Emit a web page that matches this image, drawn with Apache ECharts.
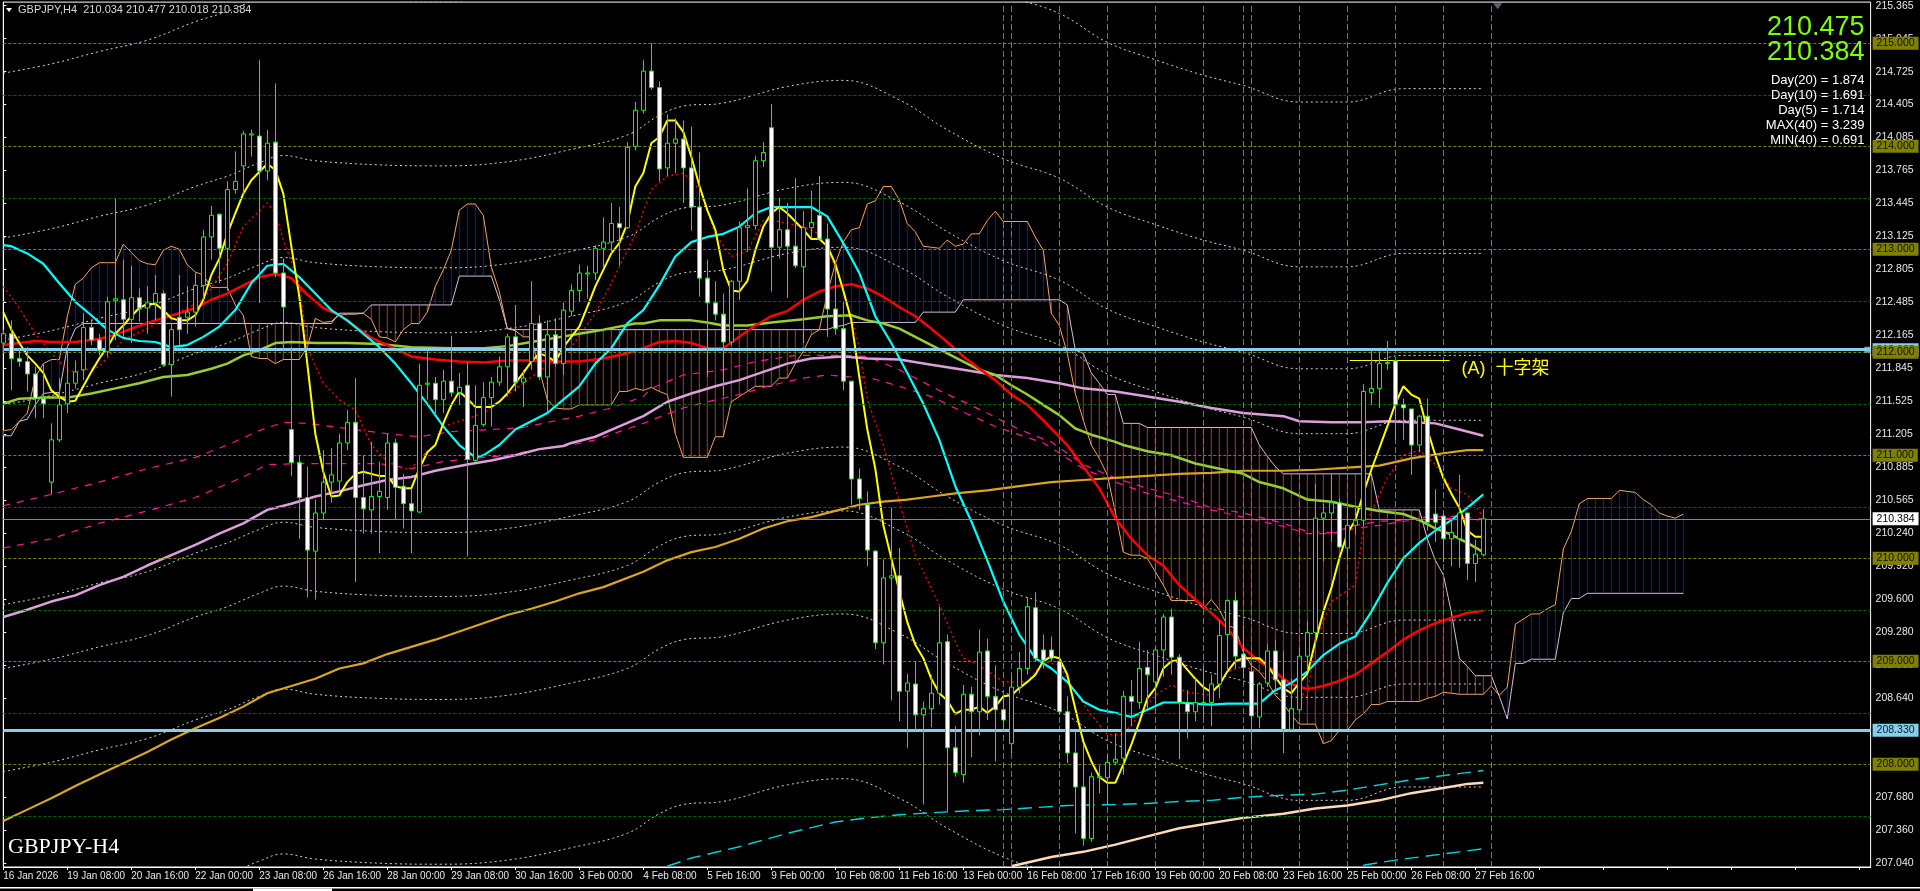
<!DOCTYPE html>
<html><head><meta charset="utf-8">
<style>html,body{margin:0;padding:0;background:#000;overflow:hidden}#c{width:1920px;height:891px}</style>
<script src="https://cdn.jsdelivr.net/npm/echarts@6/dist/echarts.min.js"></script>
</head><body><div id="c"></div>
<script>
const timeLabels=['16 Jan 2026','19 Jan 08:00','20 Jan 16:00','22 Jan 00:00','23 Jan 08:00','26 Jan 16:00','28 Jan 00:00','29 Jan 08:00','30 Jan 16:00','3 Feb 00:00','4 Feb 08:00','5 Feb 16:00','9 Feb 00:00','10 Feb 08:00','11 Feb 16:00','13 Feb 00:00','16 Feb 08:00','17 Feb 16:00','19 Feb 00:00','20 Feb 08:00','23 Feb 16:00','25 Feb 00:00','26 Feb 08:00','27 Feb 16:00'];
const priceTicks=[207.040,207.360,207.680,208.000,208.320,208.640,208.960,209.280,209.600,209.920,210.240,210.565,210.885,211.205,211.525,211.845,212.165,212.485,212.805,213.125,213.445,213.765,214.085,214.405,214.725,215.045,215.365];
const wholeLevels=[215,214,213,212,211,210,209,208];
const halfLevels=[214.5,213.5,212.5,211.5,210.5,209.5,208.5,207.5];
const dayBars=[125,126,132,138,144,150,155,156,162,168,174,180,186];
const opens=[212.09,212.18,211.94,211.91,211.79,211.55,210.74,211.15,211.50,211.70,
211.83,212.24,212.12,212.01,212.50,212.51,212.32,212.53,212.43,212.48,
212.57,211.88,212.34,212.34,212.39,212.65,213.12,213.34,213.01,213.58,
213.81,214.11,214.10,213.76,214.04,212.77,211.25,210.93,210.59,210.07,
210.44,210.74,210.75,211.12,211.32,210.59,210.47,210.60,210.59,211.12,
210.70,210.53,210.45,211.69,211.70,211.54,211.72,211.61,211.68,210.95,
211.30,211.56,211.71,211.86,212.15,211.71,211.91,212.28,211.76,212.17,
211.89,212.40,212.60,212.76,212.77,213.01,213.07,213.25,213.21,214.00,
214.35,214.73,214.57,213.79,214.03,214.07,213.79,213.41,212.72,212.48,
212.37,212.10,212.69,213.21,213.23,213.86,214.18,213.02,213.19,213.03,
212.83,213.21,213.33,213.10,212.42,212.23,211.72,210.77,210.52,210.07,
209.18,209.81,209.83,208.71,208.78,208.48,208.54,208.69,209.19,208.16,
207.90,208.68,208.51,209.10,208.66,208.53,208.20,208.75,208.93,209.52,
209.11,209.11,209.00,208.51,208.11,207.78,207.28,207.87,207.87,208.02,
208.06,208.66,208.60,208.94,208.80,209.11,209.43,209.04,208.60,208.51,
208.59,208.60,208.78,209.26,209.59,209.07,208.90,208.46,208.79,209.10,
208.82,208.34,208.53,209.05,209.28,210.39,210.44,210.54,210.10,210.32,
210.37,211.61,211.65,211.89,211.92,211.49,211.45,211.10,211.38,210.43,
210.41,210.19,210.19,210.44,209.95,210.034];
const highs=[212.22,212.31,212.03,212.05,211.86,211.89,211.31,211.75,212.04,211.92,
212.38,212.31,212.18,212.54,213.49,212.90,212.84,212.62,212.64,212.75,
212.60,212.28,212.75,212.64,212.77,213.19,213.42,213.35,213.66,213.95,
214.15,214.16,214.84,214.16,214.61,212.91,212.05,211.00,210.89,210.57,
211.05,211.07,211.21,211.44,211.75,211.00,211.13,210.94,211.21,211.16,
210.82,210.68,211.89,212.02,211.76,211.83,212.16,211.80,211.90,211.68,
211.71,211.76,211.96,212.18,212.46,211.83,212.69,212.36,212.31,212.33,
212.48,212.66,212.85,212.84,213.04,213.31,213.45,213.41,214.04,214.43,
214.84,215.00,214.63,214.31,214.27,214.25,214.19,213.94,212.90,212.69,
212.57,212.70,213.27,213.59,213.91,214.04,214.41,213.50,213.45,213.69,
213.37,213.57,213.71,213.25,212.88,212.49,211.72,210.87,210.65,210.08,
209.99,210.49,210.10,208.88,209.00,208.61,208.87,209.53,209.26,208.37,
208.77,208.75,209.31,209.22,208.96,208.66,208.87,209.09,209.62,209.67,
209.26,209.24,209.48,208.66,208.32,208.20,207.92,207.99,208.09,208.30,
208.71,208.82,209.19,209.11,209.14,209.46,209.51,209.07,208.72,208.83,
208.95,208.87,209.40,209.60,209.67,209.35,208.98,208.80,209.17,209.21,
209.10,208.83,209.13,209.39,210.72,210.53,210.82,210.58,210.49,210.49,
211.69,212.02,212.01,212.11,211.92,211.55,211.45,211.39,211.55,210.67,
210.44,210.36,210.81,210.44,210.18,210.477];
const lows=[211.99,211.63,211.86,211.62,211.36,211.36,210.62,211.13,211.41,211.65,
211.73,212.07,211.97,211.96,212.12,212.15,212.09,212.30,212.18,212.31,
211.86,211.57,212.07,212.18,212.25,212.51,212.90,212.67,212.60,213.54,
213.53,213.90,212.48,213.67,212.73,212.02,210.80,210.19,209.62,209.60,
210.37,210.54,210.66,211.05,209.77,210.24,210.24,210.05,210.47,210.38,
210.29,210.05,210.44,211.54,211.41,211.41,211.57,211.49,210.02,210.94,
211.28,211.28,211.67,211.57,211.62,211.47,211.83,211.73,211.41,211.86,
211.78,212.35,212.49,212.52,212.70,212.83,212.96,212.84,213.20,213.96,
214.32,214.55,213.66,213.71,213.74,213.45,213.18,212.54,211.76,212.31,
211.58,212.07,212.51,212.98,213.19,213.80,212.59,212.91,212.53,212.82,
212.09,213.11,213.10,212.15,212.17,211.63,210.52,210.47,209.92,209.12,
208.97,208.62,208.42,208.16,208.33,207.61,208.36,208.58,207.54,207.88,
207.82,208.07,208.28,208.43,208.03,208.32,208.11,208.69,208.87,209.00,
208.93,209.00,208.48,208.01,207.33,207.21,207.25,207.72,207.61,207.99,
207.90,208.37,208.54,208.54,208.58,208.85,208.87,208.05,208.25,208.42,
208.45,208.37,208.64,208.92,208.93,208.83,208.20,208.35,208.75,208.72,
208.11,208.33,208.51,208.90,209.16,209.97,210.16,210.10,210.00,210.23,
210.31,211.49,211.46,211.83,211.15,211.15,210.81,211.03,210.27,210.16,
209.96,209.92,209.91,209.79,209.77,210.018];
const closes=[212.18,211.94,211.91,211.79,211.55,211.50,211.15,211.49,211.70,211.81,
212.24,212.12,212.02,212.49,212.52,212.32,212.53,212.43,212.48,212.57,
211.88,212.22,212.22,212.39,212.65,213.12,213.33,213.01,213.58,213.66,
214.12,214.12,213.76,214.03,212.77,212.44,210.93,210.59,210.08,210.44,
210.74,210.81,211.12,211.32,210.59,210.48,210.60,210.65,211.12,210.69,
210.53,210.46,211.68,211.70,211.54,211.72,211.61,211.66,210.96,211.29,
211.56,211.71,211.86,212.15,211.71,211.75,212.28,211.76,212.17,211.89,
212.41,212.60,212.77,212.77,213.01,213.07,213.25,213.21,213.99,214.35,
214.73,214.57,213.78,214.03,214.07,213.79,213.41,212.72,212.48,212.37,
212.10,212.69,213.21,213.23,213.86,213.94,213.02,213.19,213.03,212.84,
213.21,213.26,213.10,212.42,212.23,211.72,210.77,210.58,210.08,209.18,
209.81,209.83,208.71,208.79,208.48,208.54,208.69,209.18,208.16,207.92,
208.68,208.51,209.09,208.66,208.53,208.43,208.75,208.93,209.53,209.03,
209.01,209.03,208.51,208.11,207.78,207.28,207.88,207.88,208.02,208.05,
208.66,208.61,208.93,208.87,209.11,209.43,209.04,208.60,208.51,208.60,
208.60,208.78,209.25,209.59,209.05,208.94,208.47,208.78,209.10,208.82,
208.34,208.54,209.05,209.28,210.39,210.44,210.54,210.11,210.32,210.37,
211.62,211.65,211.89,211.90,211.49,211.46,211.10,211.38,210.35,210.35,
210.19,210.25,210.44,209.95,210.04,210.384];
const yellowMA=[212.39,212.22,212.09,211.97,211.89,211.80,211.63,211.57,211.52,211.53,
211.67,211.81,211.94,212.05,212.18,212.26,212.35,212.43,212.47,212.47,
212.41,212.33,212.31,212.31,212.36,212.51,212.75,212.91,213.15,213.35,
213.54,213.67,213.75,213.83,213.77,213.54,213.03,212.54,211.89,211.21,
210.84,210.60,210.61,210.74,210.82,210.84,210.82,210.80,210.80,210.70,
210.68,210.68,210.87,211.03,211.10,211.31,211.49,211.62,211.55,211.47,
211.47,211.47,211.52,211.60,211.70,211.80,211.91,211.99,211.96,211.91,
212.05,212.15,212.25,212.44,212.64,212.80,212.96,213.06,213.25,213.61,
213.74,214.03,214.09,214.25,214.25,214.14,213.90,213.62,213.38,213.19,
212.80,212.60,212.59,212.69,212.99,213.22,213.35,213.41,213.35,213.27,
213.19,213.10,213.10,213.03,212.86,212.60,212.31,211.76,211.25,210.87,
210.32,210.00,209.68,209.38,209.16,209.03,208.83,208.69,208.62,208.49,
208.53,208.53,208.56,208.50,208.56,208.66,208.67,208.74,208.80,208.87,
209.00,209.05,209.03,208.87,208.54,208.22,208.03,207.88,207.82,207.82,
208.00,208.19,208.41,208.64,208.74,208.93,209.00,209.01,208.92,208.83,
208.75,208.70,208.77,208.90,209.00,209.03,209.03,209.03,208.96,208.85,
208.74,208.69,208.79,208.88,209.19,209.48,209.71,210.00,210.24,210.37,
210.63,210.86,211.07,211.28,211.50,211.67,211.59,211.55,211.25,211.00,
210.78,210.63,210.49,210.27,210.21,210.21];
const cyanBars=[0,1,3,5,7,9,11,13,15,17,19,21,23,25,27,29,31,33,35,37,39,41,43,45,47,49,51,53,55,57,58,59,60,61,62,64,66,68,70,72,74,76,78,80,82,84,86,88,90,92,94,96,98,101,103,105,107,109,111,113,115,117,119,121,123,125,127,129,131,133,135,137,139,141,143,145,147,149,151,153,155,157,159,161,163,165,167,169,171,173,175,177,179,181,183,185];
const cyanMA=[213.04,213.03,212.96,212.86,212.67,212.49,212.36,212.22,212.14,212.11,212.10,212.05,212.07,212.15,212.25,212.41,212.67,212.84,212.86,212.73,212.57,212.41,212.31,212.18,212.05,211.89,211.70,211.50,211.28,211.10,211.04,210.98,211.00,211.05,211.10,211.25,211.33,211.41,211.54,211.67,211.89,212.04,212.28,212.41,212.65,212.93,213.07,213.12,213.15,213.22,213.35,213.41,213.41,213.41,213.32,213.06,212.77,212.35,212.09,211.80,211.50,211.15,210.70,210.36,209.98,209.58,209.26,209.03,208.93,208.80,208.61,208.53,208.50,208.46,208.53,208.60,208.60,208.59,208.58,208.59,208.59,208.59,208.72,208.79,208.90,209.06,209.17,209.24,209.48,209.76,210.00,210.15,210.27,210.37,210.49,210.62];
const redBars=[0,2,4,6,9,12,14,16,19,22,24,26,28,30,32,34,36,38,40,42,44,46,48,51,54,57,60,63,66,69,72,75,78,80,82,84,86,88,90,92,94,96,98,100,102,104,106,108,110,112,114,116,118,120,122,124,126,128,130,132,133,135,137,139,141,143,145,147,149,151,153,155,157,159,160,161,163,165,167,169,171,173,175,177,179,181,183,185];
const redMA=[212.07,212.09,212.11,212.10,212.10,212.13,212.17,212.23,212.31,212.38,212.43,212.51,212.57,212.65,212.73,212.76,212.72,212.56,212.43,212.36,212.25,212.14,212.07,211.96,211.93,211.91,211.90,211.92,211.92,211.91,211.91,211.94,211.99,212.04,212.10,212.11,212.09,212.04,212.04,212.15,212.26,212.35,212.40,212.51,212.59,212.64,212.66,212.62,212.54,212.44,212.35,212.23,212.10,211.96,211.84,211.73,211.59,211.49,211.34,211.18,211.10,210.89,210.68,210.39,210.19,210.03,209.93,209.74,209.60,209.47,209.32,209.13,209.00,208.90,208.83,208.78,208.73,208.76,208.81,208.87,208.98,209.09,209.21,209.30,209.37,209.42,209.47,209.49];
const greenBars=[0,2,5,8,11,14,17,20,23,26,28,30,32,34,36,39,43,47,51,56,60,63,66,69,72,75,79,80,82,86,88,90,93,96,100,103,106,108,110,112,114,116,118,120,122,124,126,128,130,132,134,136,139,140,143,146,149,152,155,157,160,163,166,169,172,175,177,179,181,183,185];
const greenMA=[211.50,211.55,211.56,211.56,211.60,211.65,211.70,211.76,211.78,211.84,211.89,211.97,212.02,212.09,212.10,212.09,212.09,212.08,212.05,212.04,212.04,212.06,212.10,212.14,212.18,212.22,212.28,212.28,212.31,212.31,212.29,212.26,212.26,212.29,212.32,212.35,212.36,212.31,212.28,212.23,212.15,212.07,211.99,211.91,211.83,211.78,211.68,211.59,211.49,211.39,211.26,211.20,211.13,211.10,211.04,211.00,210.92,210.87,210.82,210.74,210.68,210.57,210.55,210.50,210.46,210.43,210.37,210.29,210.23,210.15,210.06];
const plumBars=[0,3,6,9,12,15,18,21,24,27,30,33,36,39,42,45,48,51,54,58,61,64,67,70,71,74,77,80,83,86,89,92,95,98,101,105,108,112,116,120,124,128,132,135,139,143,147,151,155,160,162,166,170,173,176,179,182,185];
const plumMA=[209.43,209.50,209.58,209.64,209.74,209.82,209.93,210.03,210.13,210.24,210.34,210.47,210.53,210.60,210.65,210.71,210.76,210.79,210.85,210.91,210.95,211.00,211.06,211.09,211.12,211.18,211.28,211.38,211.52,211.60,211.67,211.73,211.81,211.89,211.94,211.96,211.94,211.93,211.88,211.83,211.78,211.75,211.70,211.65,211.62,211.57,211.52,211.46,211.41,211.38,211.33,211.32,211.32,211.33,211.32,211.31,211.25,211.19];
const orangeBars=[0,3,6,9,12,15,18,21,24,27,30,33,36,39,42,45,48,51,54,57,60,63,66,69,72,75,80,83,86,89,92,95,98,101,104,107,110,113,116,119,123,127,131,135,139,143,147,151,155,160,164,168,172,176,180,183,185];
const orangeMA=[207.45,207.56,207.67,207.79,207.90,208.01,208.12,208.24,208.35,208.45,208.56,208.69,208.76,208.83,208.93,208.98,209.07,209.14,209.21,209.29,209.37,209.45,209.51,209.58,209.66,209.72,209.87,209.98,210.06,210.11,210.19,210.29,210.36,210.40,210.46,210.52,210.55,210.57,210.60,210.63,210.66,210.70,210.74,210.76,210.78,210.80,210.82,210.83,210.85,210.85,210.86,210.88,210.90,210.97,211.02,211.05,211.05];
const peachBars=[126,131,135,139,143,147,151,155,160,164,168,172,176,180,183,185];
const peachMA=[207.01,207.10,207.15,207.22,207.30,207.38,207.43,207.48,207.52,207.57,207.60,207.65,207.72,207.77,207.81,207.82];
const dashCyanBars=[83,86,92,98,104,108,112,116,121,125,129,133,139,143,147,151,155,160,164,168,172,176,180,185];
const dashCyan=[207.01,207.09,207.20,207.33,207.44,207.48,207.51,207.53,207.55,207.56,207.58,207.60,207.61,207.62,207.64,207.65,207.68,207.70,207.71,207.75,207.80,207.85,207.89,207.94];
const dashCyanLowBars=[170,174,178,182,185];
const dashCyanLow=[207.02,207.07,207.11,207.15,207.18];
const pinkUpperBars=[0,6,12,18,24,28,32,35,38,43,48,52,56,61,65,68,72,76,80,81,85,90,94,99,105,108,112,117,123,127,131,135,139,143,147,151,155,160,163,166,169,172,175,178,182,185];
const pinkUpper=[210.51,210.62,210.74,210.87,210.98,211.10,211.24,211.32,211.31,211.26,211.21,211.18,211.23,211.25,211.27,211.32,211.38,211.46,211.57,211.65,211.78,211.83,211.91,211.97,211.97,211.96,211.83,211.63,211.41,211.25,211.13,210.91,210.78,210.68,210.60,210.49,210.44,210.34,210.26,210.25,210.32,210.36,210.37,210.40,210.41,210.38];
const pinkLowerBars=[0,6,12,18,24,30,33,37,43,47,51,55,59,63,67,71,74,77,80,81,85,88,92,96,100,103,106,108,112,116,120,124,130,135,139,143,147,151,155,160,163,166,169,172,175,178,182,185];
const pinkLower=[210.10,210.19,210.34,210.46,210.59,210.79,210.91,210.92,210.92,210.92,210.87,210.94,210.97,211.00,211.06,211.10,211.15,211.23,211.31,211.34,211.46,211.52,211.59,211.68,211.75,211.78,211.76,211.76,211.67,211.57,211.42,211.28,211.12,210.87,210.74,210.63,210.55,210.47,210.40,210.31,210.24,210.24,210.29,210.32,210.36,210.38,210.39,210.37];
const redDotBars=[0,2,4,6,8,9,12,15,20,25,28,30,33,34,35,37,38,40,42,44,46,48,50,51,52,54,55,60,66,71,74,76,79,81,83,85,87,89,91,93,95,97,100,102,104,106,107,108,110,112,114,117,119,120,122,125,128,130,132,134,136,138,140,142,144,146,148,151,153,155,158,160,163,164,166,169,170,173,175,177,179,181,183,185];
const redDot=[212.64,212.43,212.18,211.99,211.83,211.81,211.86,212.12,212.31,212.51,212.86,213.22,213.45,213.35,213.09,212.67,212.05,211.70,211.54,211.44,211.10,210.94,210.87,210.87,210.97,211.10,211.28,211.41,211.76,212.05,212.38,212.67,213.15,213.58,213.71,213.74,213.58,213.15,212.93,212.98,213.28,213.27,213.22,213.15,212.83,212.35,212.05,211.54,211.10,210.55,210.03,209.55,209.19,209.03,208.96,208.80,208.80,209.00,208.96,208.70,208.48,208.29,208.29,208.48,208.67,208.77,208.70,208.67,208.90,208.95,208.87,208.77,208.66,209.19,209.58,209.74,210.29,210.78,211.00,211.05,210.91,210.68,210.62,210.40];
const bandBars=[0,6,12,18,24,28,32,35,39,47,55,63,71,78,82,85,90,98,105,112,118,125,132,138,144,150,155,162,168,175,185];
const bandUp4=[214.71,214.80,214.92,215.03,215.21,215.31,215.44,215.51,215.46,215.42,215.41,215.45,215.57,215.71,215.90,215.99,216.02,216.18,216.24,216.05,215.76,215.48,215.29,215.01,214.84,214.69,214.59,214.43,214.43,214.56,214.56];
const bandUp3=[213.11,213.20,213.32,213.43,213.61,213.71,213.84,213.91,213.86,213.82,213.81,213.85,213.97,214.11,214.30,214.39,214.42,214.58,214.64,214.45,214.16,213.88,213.69,213.41,213.24,213.09,212.99,212.83,212.83,212.96,212.96];
const bandUp2=[212.12,212.21,212.33,212.44,212.62,212.72,212.85,212.92,212.87,212.83,212.82,212.86,212.98,213.12,213.31,213.40,213.43,213.59,213.65,213.46,213.17,212.89,212.70,212.42,212.25,212.10,212.00,211.84,211.84,211.97,211.97];
const bandUp1=[211.49,211.58,211.70,211.81,211.99,212.09,212.22,212.29,212.24,212.20,212.19,212.23,212.35,212.49,212.68,212.77,212.80,212.96,213.02,212.83,212.54,212.26,212.07,211.79,211.62,211.47,211.37,211.21,211.21,211.34,211.34];
const bandDn1=[209.55,209.64,209.76,209.87,210.05,210.15,210.28,210.35,210.30,210.26,210.25,210.29,210.41,210.55,210.74,210.83,210.86,211.02,211.08,210.89,210.60,210.32,210.13,209.85,209.68,209.53,209.43,209.27,209.27,209.40,209.40];
const bandDn2=[208.93,209.02,209.14,209.25,209.43,209.53,209.66,209.73,209.68,209.64,209.63,209.67,209.79,209.93,210.12,210.21,210.24,210.40,210.46,210.27,209.98,209.70,209.51,209.23,209.06,208.91,208.81,208.65,208.65,208.78,208.78];
const bandDn3=[207.93,208.02,208.14,208.25,208.43,208.53,208.66,208.73,208.68,208.64,208.63,208.67,208.79,208.93,209.12,209.21,209.24,209.40,209.46,209.27,208.98,208.70,208.51,208.23,208.06,207.91,207.81,207.65,207.65,207.78,207.78];
const bandDn4=[206.33,206.42,206.54,206.65,206.83,206.93,207.06,207.13,207.08,207.04,207.03,207.07,207.19,207.33,207.52,207.61,207.64,207.80,207.86,207.67,207.38,207.10,206.91,206.63,206.46,206.31,206.21,206.05,206.05,206.18,206.18];
const senkouA=[211.24,211.25,211.33,211.41,211.76,211.89,211.93,211.93,212.35,212.66,
212.72,212.82,212.87,212.87,212.87,213.05,212.97,212.89,212.86,212.85,
212.99,213.03,213.00,212.85,212.78,212.75,212.63,212.63,212.63,212.46,
212.36,211.96,211.94,211.94,211.89,211.93,211.93,211.93,212.05,212.33,
212.29,212.30,212.36,212.37,212.37,212.38,212.32,212.15,212.14,212.10,
212.22,212.28,212.28,212.39,212.64,212.80,212.99,213.38,213.44,213.44,
213.33,212.83,212.59,212.23,212.21,212.15,212.15,211.83,211.54,211.46,
211.45,211.45,211.49,211.49,211.49,211.49,211.49,211.62,211.62,211.65,
211.63,211.66,211.62,211.59,211.21,210.98,210.98,210.98,210.98,211.18,
211.18,211.52,211.57,211.62,211.67,211.67,211.67,211.75,211.75,211.89,
212.01,212.17,212.22,212.57,212.86,213.07,213.19,213.21,213.44,213.47,
213.61,213.61,213.48,213.25,213.17,213.03,213.02,213.01,213.09,213.03,
213.05,213.15,213.15,213.28,213.37,213.27,213.27,213.27,213.27,213.12,
212.99,212.38,212.26,211.99,211.60,211.34,211.10,210.97,210.81,210.45,
210.06,210.03,210.03,210.00,209.87,209.74,209.59,209.59,209.59,209.59,
209.51,209.60,209.50,209.35,209.32,209.09,208.96,208.90,208.80,208.67,
208.59,208.48,208.39,208.39,208.39,208.20,208.23,208.33,208.33,208.43,
208.49,208.58,208.58,208.61,208.61,208.61,208.61,208.61,208.64,208.66,
208.70,208.69,208.68,208.68,208.68,208.68,208.76,208.67,208.75,209.36,
209.41,209.46,209.46,209.51,209.55,210.09,210.26,210.53,210.58,210.58,
210.58,210.58,210.66,210.65,210.64,210.57,210.52,210.44,210.41,210.39,210.43];
const senkouB=[211.19,211.19,211.33,211.35,211.49,211.60,211.61,211.61,212.05,212.23,
212.28,212.28,212.28,212.28,212.28,212.28,212.28,212.28,212.28,212.28,
212.28,212.28,212.28,212.28,212.28,212.28,212.28,212.28,212.28,212.28,
212.28,212.28,212.28,212.28,212.28,212.28,212.28,212.28,212.28,212.28,
212.28,212.28,212.38,212.38,212.38,212.38,212.46,212.46,212.46,212.46,
212.46,212.46,212.46,212.46,212.46,212.46,212.46,212.74,212.74,212.74,
212.74,212.74,212.51,212.23,212.22,212.22,212.22,212.22,212.22,212.22,
212.22,212.22,212.22,212.22,212.22,212.22,212.22,212.22,212.22,212.22,
212.22,212.22,212.22,212.22,212.22,212.22,212.22,212.22,212.22,212.22,
212.22,212.22,212.22,212.22,212.22,212.22,212.22,212.22,212.22,212.22,
212.22,212.22,212.22,212.22,212.25,212.26,212.29,212.29,212.29,212.29,
212.29,212.29,212.29,212.29,212.29,212.39,212.39,212.39,212.39,212.39,
212.51,212.51,212.51,212.51,212.51,212.51,212.51,212.51,212.51,212.51,
212.51,212.51,212.51,212.46,212.02,211.99,211.80,211.70,211.59,211.59,
211.31,211.31,211.31,211.27,211.27,211.27,211.27,211.27,211.27,211.27,
211.27,211.27,211.27,211.27,211.27,211.27,211.27,211.10,210.99,210.89,
210.82,210.82,210.82,210.82,210.82,210.82,210.82,210.82,210.82,210.82,
210.82,210.82,210.47,210.47,210.47,210.47,210.47,210.47,210.19,209.98,
209.84,209.48,209.03,208.95,208.86,208.86,208.86,208.66,208.44,208.98,
208.98,209.02,209.02,209.02,209.02,209.47,209.61,209.61,209.66,209.66,
209.66,209.66,209.66,209.66,209.66,209.66,209.66,209.66,209.66,209.66,209.66];
const headerText='GBPJPY,H4  210.034 210.477 210.018 210.384';
const bigPrices=['210.475','210.384'];
const infoLines=['Day(20) = 1.874','Day(10) = 1.691','Day(5) = 1.714','MAX(40) = 3.239','MIN(40) = 0.691'];
const skyLevels=[212.025,208.33];
const currentPrice=210.384;

const FONT='"Liberation Sans",Arial,sans-serif';
const pairs=(xs,ys)=>xs.map((x,i)=>[x,ys[i]]);
const line=(name,xs,ys,color,width,type,z,smooth)=>({name,type:'line',data:pairs(xs,ys),showSymbol:false,symbol:'none',silent:true,animation:false,smooth:smooth||false,z:z,
  lineStyle:{color,width,type:type||'solid',cap:'butt'}});
const band=(name,ys)=>line(name,bandBars,ys,'#d4d4d4',1,[2,3],3,0.4);
const tag=(v,bg,fg)=>({yAxis:v,label:{show:true,position:'end',distance:2,formatter:v.toFixed(3),backgroundColor:bg,color:fg,fontFamily:FONT,fontSize:10.5,padding:[1,4,1,4]}});
const helper=(name,z,markLine)=>({name,type:'line',data:[],z:z,silent:true,animation:false,markLine:Object.assign({silent:true,animation:false,symbol:'none',precision:3},markLine)});

const candleData=opens.map((o,i)=>[i,o,closes[i],lows[i],highs[i]]);
const cloudData=senkouA.map((a,i)=>[i,a,senkouB[i]]);
const barIndex=senkouA.map((a,i)=>i);

const chart=echarts.init(document.getElementById('c'),null,{renderer:'canvas'});
chart.setOption({
  animation:false,backgroundColor:'#000',
  grid:{left:3.3,right:49.4,top:2.1,bottom:24,show:true,borderColor:'#ffffff',borderWidth:1,backgroundColor:'#000'},
  xAxis:{type:'value',min:0,max:233.41,interval:8,splitLine:{show:false},
    axisLine:{lineStyle:{color:'#fff'}},axisTick:{lineStyle:{color:'#fff'},length:3},
    axisLabel:{color:'#e8e8e8',fontFamily:FONT,fontSize:10,align:'left',margin:4,showMaxLabel:false,formatter:v=>timeLabels[v/8]||''}},
  yAxis:{type:'value',position:'right',min:207.003,max:215.40,scale:true,splitLine:{show:false},
    axisLine:{show:true,lineStyle:{color:'#fff'}},axisTick:{show:true,length:3,lineStyle:{color:'#fff'},customValues:priceTicks},
    axisLabel:{color:'#e8e8e8',fontFamily:FONT,fontSize:10.5,margin:5,align:'left',customValues:priceTicks,formatter:v=>v.toFixed(3)}},
  graphic:[
    {type:'polygon',shape:{points:[[6,8],[12,8],[9,12]]},style:{fill:'#fff'},z:20},
    {type:'text',x:18,y:9.5,z:20,style:{text:headerText,fill:'#d8d8d8',font:'11px '+FONT,textVerticalAlign:'middle'}},
    {type:'text',x:1864.5,y:28,z:20,style:{text:bigPrices[0],fill:'#7FFF00',font:'27px '+FONT,textAlign:'right',textVerticalAlign:'middle'}},
    {type:'text',x:1864.5,y:53,z:20,style:{text:bigPrices[1],fill:'#7FFF00',font:'27px '+FONT,textAlign:'right',textVerticalAlign:'middle'}},
    ...infoLines.map((t,i)=>({type:'text',x:1864.5,y:80+i*15,z:20,style:{text:t,fill:'#fff',font:'13px '+FONT,textAlign:'right',textVerticalAlign:'middle'}})),
    {type:'text',x:8,y:847.5,z:20,style:{text:'GBPJPY-H4',fill:'#fff',font:'22px "Liberation Serif",serif',textVerticalAlign:'middle'}},
    {type:'text',x:1461.5,y:369,z:20,style:{text:'(A)  十字架',fill:'#FFFF00',font:'18px "Liberation Sans","Noto Sans CJK JP",sans-serif',textVerticalAlign:'middle'}},
    {type:'rect',shape:{x:0,y:887,width:1920,height:1.6},style:{fill:'#fff'},z:20},
    {type:'rect',shape:{x:253,y:888.6,width:79,height:3},style:{fill:'#fff'},z:20}
  ],
  series:[
    helper('whole levels',1,{lineStyle:{color:'#808000',width:1,type:[3,2]},label:{show:false},data:wholeLevels.map(v=>({yAxis:v}))}),
    helper('half levels',1,{lineStyle:{color:'#006400',width:1,type:[3,2]},label:{show:false},data:halfLevels.map(v=>({yAxis:v}))}),
    helper('day separators',1,{lineStyle:{color:'#747474',width:1,type:[6,3]},label:{show:false},data:dayBars.map(v=>({xAxis:v}))}),
    {type:'custom',name:'cloud',z:2,silent:true,animation:false,data:cloudData,encode:{x:0,y:[1,2]},clip:true,
      renderItem:(p,api)=>{const a=api.value(1),b=api.value(2);const s=api.coord([api.value(0),a]),e=api.coord([api.value(0),b]);
        return {type:'line',shape:{x1:s[0],y1:s[1],x2:e[0],y2:e[1]},style:{stroke:a>=b?'#1f1f80':'#a83a2c',lineWidth:1}};}},
    line('Senkou A',barIndex,senkouA,'#F4A460',1,'solid',3),
    line('Senkou B',barIndex,senkouB,'#D8BFD8',1,'solid',3),
    band('band +4',bandUp4),band('band +3',bandUp3),band('band +2',bandUp2),band('band +1',bandUp1),
    band('band -1',bandDn1),band('band -2',bandDn2),band('band -3',bandDn3),band('band -4',bandDn4),
    line('pink upper',pinkUpperBars,pinkUpper,'#FF1493',1.2,[7,7],3),
    line('pink lower',pinkLowerBars,pinkLower,'#FF1493',1.2,[7,7],3),
    line('cyan dashed',dashCyanBars,dashCyan,'#00D5D9',1.4,[14,7],3),
    line('cyan dashed low',dashCyanLowBars,dashCyanLow,'#00D5D9',1.4,[14,7],3),
    line('red dotted',redDotBars,redDot,'#FF0000',1.3,[2,3],4),
    line('orange MA',orangeBars,orangeMA,'#DAA520',2.2,'solid',4),
    line('plum MA',plumBars,plumMA,'#DDA0DD',2.5,'solid',4),
    line('peach MA',peachBars,peachMA,'#FFDAB9',2.5,'solid',4),
    line('green MA',greenBars,greenMA,'#9ACD32',2.5,'solid',4),
    line('red MA',redBars,redMA,'#FF0000',2.5,'solid',4),
    line('cyan MA',cyanBars,cyanMA,'#00FFFF',2.2,'solid',4),
    line('yellow MA',barIndex.slice(0,186),yellowMA,'#FFFF00',2,'solid',4),
    helper('sky lines',5,{lineStyle:{color:'#87CEEB',width:3,type:'solid'},label:{show:false},
      data:[tag(skyLevels[0],'#87CEEB','#003040'),tag(skyLevels[1],'#87CEEB','#002030')]}),
    helper('current price',5,{lineStyle:{color:'#778899',width:1,type:'solid'},label:{show:false},data:[tag(currentPrice,'#ffffff','#000000')]}),
    {type:'candlestick',name:'GBPJPY',z:6,silent:true,animation:false,barWidth:5,data:candleData,encode:{x:0,y:[1,2,3,4]},
      itemStyle:{color:'#000',color0:'#fff',borderColor:'#00FF00',borderColor0:'#00FF00',borderColorDoji:'#00FF00',borderWidth:1}},
    helper('cross mark',7,{lineStyle:{color:'#FFFF00',width:1,type:'solid'},label:{show:false},data:[[{coord:[168.3,211.92]},{coord:[180.8,211.92]}]]}),
    helper('level tags',9,{lineStyle:{color:'rgba(0,0,0,0)',width:0},label:{show:false},data:wholeLevels.map(v=>tag(v,'#808000','#111100'))}),
    {type:'scatter',name:'shift',z:8,silent:true,animation:false,symbol:'triangle',symbolRotate:180,symbolSize:[9,6],itemStyle:{color:'#708090'},data:[[186.8,215.36]]},
    {type:'scatter',name:'line anchor',z:8,silent:true,animation:false,symbol:'rect',symbolSize:6,itemStyle:{color:'#87CEEB'},data:[[233,skyLevels[0]]]}
  ]
});
</script></body></html>
